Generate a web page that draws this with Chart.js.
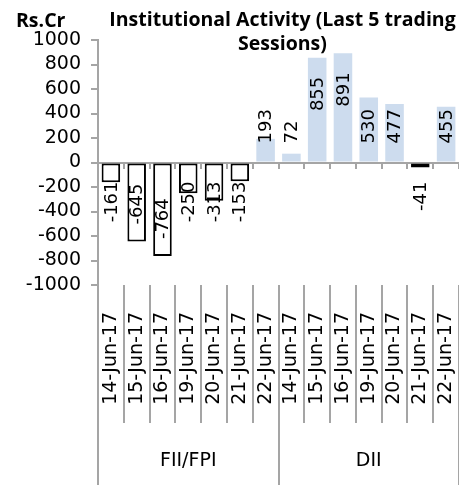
<!DOCTYPE html>
<html>
<head>
<meta charset="utf-8">
<script src="https://cdn.jsdelivr.net/npm/chart.js@4.4.0/dist/chart.umd.min.js"></script>
<style>
  html, body { margin: 0; padding: 0; background: #fff; }
  #wrap { width: 459px; height: 485px; }
</style>
</head>
<body>
<div id="wrap"><canvas id="chart"></canvas></div>
<script>
// Data
const groups = ["FII/FPI", "DII"];
const dates = ["14-Jun-17", "15-Jun-17", "16-Jun-17", "19-Jun-17", "20-Jun-17", "21-Jun-17", "22-Jun-17"];
const fiiValues = [-161, -645, -764, -250, -313, -153, 193];
const diiValues = [72, 855, 891, 530, 477, -41, 455];
const yTicks = [1000, 800, 600, 400, 200, 0, -200, -400, -600, -800, -1000];
const titleLines = ["Institutional Activity (Last 5 trading", "Sessions)"];
const unitLabel = "Rs.Cr";

const labels = dates.concat(dates);
const values = fiiValues.concat(diiValues);

const GRAY = "#a5a5a5";
const BLUE = "#cddcee";
const FONT = "DejaVu Sans";

// title + unit text, drawn over the top of the chart (title overlaps the plot)
const header = {
    id: "header",
    afterDraw(chart) {
        const ctx = chart.ctx;
        const cx = (chart.chartArea.left + chart.chartArea.right) / 2 + 4;
        ctx.save();
        ctx.fillStyle = "#000";
        ctx.font = "bold 19.5px 'Open Sans'";
        ctx.textAlign = "center";
        ctx.textBaseline = "alphabetic";
        ctx.fillText(titleLines[0], cx, 26);
        ctx.fillText(titleLines[1], cx, 50);
        ctx.textAlign = "left";
        ctx.fillText(unitLabel, 16, 27);
        ctx.restore();
    }
};

// rotated value labels, sitting near the base unless the bar is long
const barLabels = {
    id: "barLabels",
    afterDatasetsDraw(chart) {
        const ctx = chart.ctx;
        const meta = chart.getDatasetMeta(0);
        const data = chart.data.datasets[0].data;
        ctx.save();
        ctx.font = "18px 'DejaVu Sans'";
        ctx.fillStyle = "#000";
        ctx.textBaseline = "middle";
        ctx.textAlign = "left";
        meta.data.forEach((bar, i) => {
            const v = data[i];
            const text = String(v);
            const w = ctx.measureText(text).width;
            let start;
            if (v >= 0) {
                start = Math.min(bar.base - 18, bar.y + 19 + w);
            } else {
                start = Math.max(bar.base + 18, bar.y - 17 - w) + w;
            }
            ctx.save();
            ctx.translate(bar.x + 1, start);
            ctx.rotate(-Math.PI / 2);
            ctx.fillText(text, 0, 0);
            ctx.restore();
        });
        ctx.restore();
    }
};

const ctx = document.getElementById("chart").getContext("2d");
new Chart(ctx, {
    type: "bar",
    data: {
        labels: labels,
        datasets: [{
            data: values,
            xAxisID: "x",
            yAxisID: "y",
            backgroundColor: values.map(v => v < 0 ? "#ffffff" : BLUE),
            borderColor: values.map(v => v < 0 ? "#000000" : BLUE),
            borderWidth: values.map(v => v < 0 ? 2 : 0),
            borderSkipped: false,
            barPercentage: 0.72,
            categoryPercentage: 1.0
        }]
    },
    options: {
        responsive: true,
        maintainAspectRatio: false,
        animation: false,
        devicePixelRatio: 1,
        layout: { padding: { top: 40, right: 0, bottom: 15, left: 0 } },
        plugins: {
            legend: { display: false },
            tooltip: { enabled: false },
            title: { display: false }
        },
        scales: {
            y: {
                min: -1000,
                max: 1000,
                afterBuildTicks(s) { s.ticks = yTicks.map(v => ({ value: v })); },
                ticks: {
                    autoSkip: false,
                    callback: v => String(v),
                    font: { family: FONT, size: 19 }, color: "#000", padding: 10
                },
                grid: { drawOnChartArea: false, tickLength: 7, color: GRAY, lineWidth: 2 },
                border: { color: GRAY, width: 2 },
                afterFit(s) { s.width = 98; }
            },
            x: {
                type: "category",
                position: "bottom",
                weight: 0,
                offset: true,
                grid: { drawOnChartArea: false, offset: true, tickLength: 138, color: GRAY, lineWidth: 2 },
                border: { display: false },
                ticks: {
                    autoSkip: false, minRotation: 90, maxRotation: 90, padding: -111,
                    font: { family: FONT, size: 19 }, color: "#000"
                },
                afterFit(s) { s.height = 120; s.paddingLeft = 0; s.paddingRight = 0; }
            },
            x2: {
                type: "category",
                labels: groups,
                position: "bottom",
                weight: 1,
                offset: true,
                grid: { drawOnChartArea: false, offset: true, tickLength: 90, color: GRAY, lineWidth: 2 },
                border: { display: false },
                ticks: { maxRotation: 0, padding: -45, font: { family: FONT, size: 19 }, color: "#000" },
                afterFit(s) { s.height = 65; s.paddingLeft = 0; s.paddingRight = 0; }
            },
            xz: {
                type: "category",
                position: { y: 0 },
                offset: true,
                z: 1,
                grid: { drawOnChartArea: false, offset: true, tickLength: 5, color: GRAY, lineWidth: 2 },
                border: { display: true, color: GRAY, width: 2 },
                ticks: { display: false }
            }
        }
    },
    plugins: [header, barLabels]
});
</script>
</body>
</html>
